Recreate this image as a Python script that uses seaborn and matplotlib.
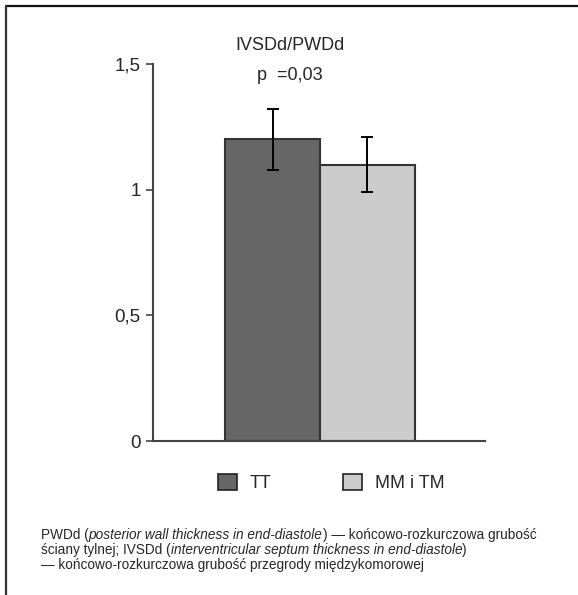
import matplotlib
matplotlib.use("Agg")
import matplotlib.pyplot as plt
import seaborn as sns
from matplotlib.patches import Patch
from matplotlib.lines import Line2D

# values
groups = ["TT", "MM i TM"]
means = [1.20, 1.10]
sds = [0.12, 0.11]
bar_colors = ["#666666", "#cccccc"]
yticks = [0, 0.5, 1, 1.5]
ytick_labels = ["0", "0,5", "1", "1,5"]
title = "IVSDd/PWDd"
p_text = "p  =0,03"

sns.set_style("white")
fam = ["Liberation Sans Narrow", "Liberation Sans", "DejaVu Sans"]
plt.rcParams["font.family"] = fam

fig = plt.figure(figsize=(5.78, 5.95), dpi=100)
ax = fig.add_axes([153 / 578, 1 - 441 / 595, 332 / 578, 377 / 595])

sns.barplot(x=groups, y=means, hue=groups, palette=bar_colors, width=1,
            edgecolor="#333333", linewidth=1.5, legend=False, ax=ax)
ax.errorbar(range(len(groups)), means, yerr=sds, fmt="none", ecolor="black",
            elinewidth=1.4, capsize=4.5, capthick=1.4)

ax.set_xlim(-1.258, 2.237)
ax.set_ylim(0, 1.5)
ax.set_yticks(yticks)
ax.set_yticklabels(ytick_labels)
ax.set_xticks([])
ax.set_xlabel("")
ax.set_ylabel("")
for s in ["top", "right"]:
    ax.spines[s].set_visible(False)
for s in ["left", "bottom"]:
    ax.spines[s].set_color("#444444")
    ax.spines[s].set_linewidth(1.5)
ax.tick_params(axis="y", left=True, length=5, width=1.2, color="#444444",
               pad=4, labelsize=13.5)

fig.text(290 / 578, 1 - 45 / 595, title, ha="center", va="center", fontsize=13)
fig.text(290 / 578, 1 - 76 / 595, p_text, ha="center", va="center", fontsize=13)

handles = [Patch(facecolor=c, edgecolor="#222222", linewidth=1.2) for c in bar_colors]
fig.legend(handles, groups, loc="center", bbox_to_anchor=(331 / 578, 1 - 483 / 595),
           ncol=2, frameon=False, fontsize=13, handlelength=1.05, handleheight=1.05,
           handletextpad=0.7, columnspacing=4)

# frame lines (top and left only)
fig.add_artist(Line2D([5.5 / 578, 1], [1 - 5.5 / 595] * 2, color="#111111", lw=1.6))
fig.add_artist(Line2D([5.5 / 578] * 2, [0, 1 - 5.5 / 595], color="#333333", lw=1.6))

# caption with italic parts
caption = [
    [("PWDd (", "normal"), ("posterior wall thickness in end-diastole", "italic"),
     (") \u2014 ko\u0144cowo-rozkurczowa grubo\u015b\u0107", "normal")],
    [("\u015bciany tylnej; IVSDd (", "normal"),
     ("interventricular septum thickness in end-diastole", "italic"), (")", "normal")],
    [("\u2014 ko\u0144cowo-rozkurczowa grubo\u015b\u0107 przegrody mi\u0119dzykomorowej", "normal")],
]
renderer = fig.canvas.get_renderer()
y_px = [535, 550, 565]
for line, yp in zip(caption, y_px):
    x = 41 / 578
    for txt, style in line:
        t = fig.text(x, 1 - yp / 595, txt, ha="left", va="center", fontsize=9.8,
                     style=style)
        bb = t.get_window_extent(renderer)
        x += bb.width / fig.bbox.width

fig.savefig("out.png", dpi=100)
